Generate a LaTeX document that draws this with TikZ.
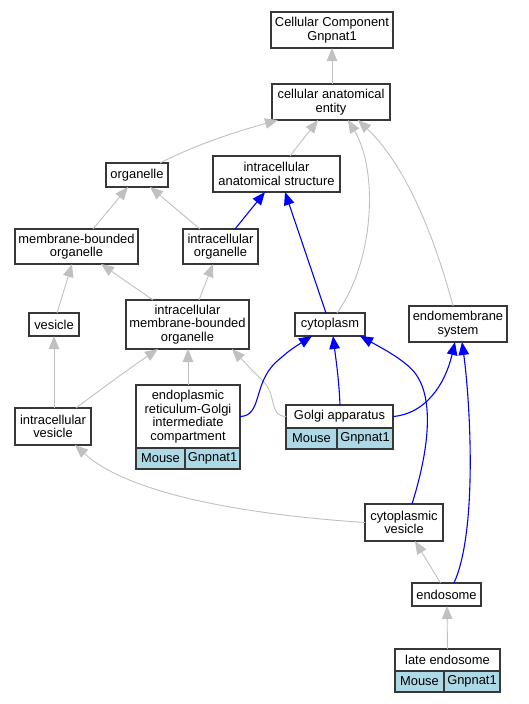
\documentclass[tikz,border=0pt]{standalone}
\usepackage{fontspec}
\setmainfont{Liberation Sans}
\usetikzlibrary{arrows.meta}
\definecolor{isagray}{RGB}{192,192,192}
\definecolor{rowblue}{RGB}{173,216,230}
\definecolor{boxline}{RGB}{55,55,55}

\begin{document}
\begin{tikzpicture}[x=1pt,y=-1pt,
	term/.style={draw=boxline,line width=1.1pt,fill=white,align=center,inner sep=1pt,outer sep=0pt,font=\fontsize{12.9}{13.6}\selectfont},
	cell/.style={draw=boxline,line width=1.1pt,fill=rowblue,inner sep=0pt,outer sep=0pt,minimum height=21,anchor=north west,font=\fontsize{12.9}{13.6}\selectfont},
	isa/.style={draw=isagray,line width=0.9pt,-{Triangle[length=13pt,width=10.5pt]}},
	partof/.style={draw=blue,line width=1.1pt,-{Triangle[length=13pt,width=10.5pt]}}]
		\useasboundingbox (0,0) rectangle (529,704);
		%terms
		\node[term,minimum width=122,minimum height=36] (top) at (332,30) {Cellular Component\\Gnpnat1};
		\node[term,minimum width=118,minimum height=36] (cae) at (331,102) {cellular anatomical\\entity};
		\node[term,minimum width=62,minimum height=24] (org) at (137,175) {organelle};
		\node[term,minimum width=127,minimum height=36] (ias) at (276.5,174) {intracellular\\anatomical structure};
		\node[term,minimum width=123,minimum height=35] (mbo) at (76.5,246.5) {membrane-bounded\\organelle};
		\node[term,minimum width=75,minimum height=35] (io) at (220.5,246.5) {intracellular\\organelle};
		\node[term,minimum width=50,minimum height=23] (ves) at (54,324.5) {vesicle};
		\node[term,minimum width=123,minimum height=49] (imbo) at (187.5,324.5) {intracellular\\membrane-bounded\\organelle};
		\node[term,minimum width=70,minimum height=23] (cyto) at (330,324.5) {cytoplasm};
		\node[term,minimum width=98,minimum height=36] (ems) at (458,324) {endomembrane\\system};
		\node[term,minimum width=76,minimum height=37] (iv) at (53,426.5) {intracellular\\vesicle};
		\node[term,minimum width=104,minimum height=63] (ergic) at (188,416.5) {endoplasmic\\reticulum-Golgi\\intermediate\\compartment};
		\node[term,minimum width=107,minimum height=23] (golgi) at (339.5,416.5) {Golgi apparatus};
		\node[term,minimum width=78,minimum height=37] (cv) at (404,522.5) {cytoplasmic\\vesicle};
		\node[term,minimum width=69,minimum height=23] (endo) at (446.5,594.5) {endosome};
		\node[term,minimum width=105,minimum height=22] (late) at (447.5,660) {late endosome};
		%annotation rows
		\node[cell,minimum width=49] (ergicm) at (ergic.south west) {Mouse};
		\node[cell,minimum width=55] (ergicg) at (ergicm.north east) {Gnpnat1};
		\node[cell,minimum width=51] (golgim) at (golgi.south west) {Mouse};
		\node[cell,minimum width=56] (golgig) at (golgim.north east) {Gnpnat1};
		\node[cell,minimum width=49] (latem) at (late.south west) {Mouse};
		\node[cell,minimum width=56] (lateg) at (latem.north east) {Gnpnat1};
		%is_a edges
		\draw[isa] ([xshift=1]cae.north) -- (top.south);
		\draw[isa] ([xshift=23]org.north) .. controls (195,145) and (235,132) .. ([xshift=-53]cae.south);
		\draw[isa] ([xshift=13.5]ias.north) -- ([xshift=-13]cae.south);
		\draw[isa] ([xshift=7]cyto.north) .. controls (375,260) and (378,170) .. ([xshift=17]cae.south);
		\draw[isa] ([xshift=-5]ems.north) .. controls (430,220) and (400,160) .. ([xshift=27]cae.south);
		\draw[isa] ([xshift=16.5]mbo.north) -- ([xshift=-9]org.south);
		\draw[isa] ([xshift=-20.5]io.north) -- ([xshift=13]org.south);
		\draw[isa] ([xshift=3]ves.north) -- ([xshift=-4.5]mbo.south);
		\draw[isa] ([xshift=-34.5]imbo.north) -- ([xshift=24.5]mbo.south);
		\draw[isa] ([xshift=11.5]imbo.north) -- ([xshift=-7.5]io.south);
		\draw[isa] ([xshift=1]iv.north) -- (ves.south);
		\draw[isa] ([xshift=23]iv.north) .. controls (100,390) and (130,368) .. ([xshift=-29.5]imbo.south);
		\draw[isa] (ergic.north) -- ([xshift=0.5]imbo.south);
		\draw[isa] (golgi.west) .. controls (268,416) and (278,395) .. (262,380) .. controls (250,368) .. ([xshift=44.5]imbo.south);
		\draw[isa] (cv.west) .. controls (250,515) and (130,495) .. ([xshift=22]iv.south);
		\draw[isa] ([xshift=-6]endo.north) -- ([xshift=11]cv.south);
		\draw[isa] (late.north) -- ([xshift=0.5]endo.south);
		%part_of edges
		\draw[partof] ([xshift=14.5]io.north) -- ([xshift=-11.5]ias.south);
		\draw[partof] ([xshift=-4]cyto.north) -- ([xshift=8.5]ias.south);
		\draw[partof] (ergic.east) .. controls (262,416) and (253,385) .. (275,363) .. controls (290,350) .. ([xshift=-18]cyto.south);
		\draw[partof] ([xshift=0.5]golgi.north) .. controls (339,380) and (336,360) .. ([xshift=3]cyto.south);
		\draw[partof] (golgi.east) .. controls (425,414) and (445,385) .. ([xshift=-3]ems.south);
		\draw[partof] ([xshift=8]cv.north) .. controls (432,440) and (432,395) .. (415,373) .. controls (405,360) and (380,347) .. ([xshift=30]cyto.south);
		\draw[partof] ([xshift=7.5]endo.north) .. controls (478,530) and (470,400) .. ([xshift=4]ems.south);
	\end{tikzpicture}
\end{document}
